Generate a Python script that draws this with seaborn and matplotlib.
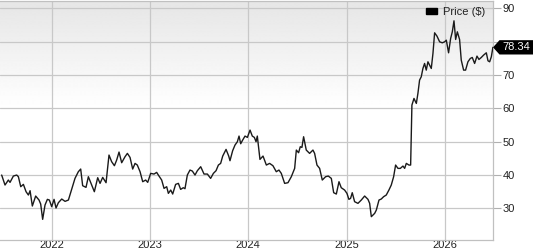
import numpy as np
import pandas as pd
import matplotlib
matplotlib.use("Agg")
import matplotlib.pyplot as plt
import matplotlib.transforms as mtransforms
from matplotlib.patches import Patch, Polygon
import seaborn as sns

# ---- data (time in decimal years, price in $) ----
t = [2021.491, 2021.525, 2021.559, 2021.576, 2021.610, 2021.644, 2021.661, 2021.685,
     2021.712, 2021.739, 2021.763, 2021.780, 2021.803, 2021.837, 2021.871, 2021.888,
     2021.908, 2021.932, 2021.956, 2021.976, 2022.000, 2022.024, 2022.044, 2022.068,
     2022.102, 2022.136, 2022.170, 2022.203, 2022.237, 2022.271, 2022.295, 2022.315,
     2022.349, 2022.373, 2022.407, 2022.434, 2022.468, 2022.492, 2022.519, 2022.553,
     2022.583, 2022.610, 2022.638, 2022.661, 2022.685, 2022.712, 2022.746, 2022.770,
     2022.797, 2022.824, 2022.848, 2022.871, 2022.899, 2022.926, 2022.956, 2022.977,
     2023.007, 2023.041, 2023.068, 2023.085, 2023.119, 2023.143, 2023.170, 2023.187,
     2023.211, 2023.231, 2023.261, 2023.289, 2023.312, 2023.339, 2023.356, 2023.380,
     2023.407, 2023.431, 2023.458, 2023.482, 2023.516, 2023.550, 2023.584, 2023.617,
     2023.645, 2023.672, 2023.696, 2023.719, 2023.740, 2023.774, 2023.801, 2023.814,
     2023.841, 2023.865, 2023.889, 2023.906, 2023.923, 2023.943, 2023.967, 2023.991,
     2024.018, 2024.041, 2024.062, 2024.079, 2024.092, 2024.119,
     2024.150, 2024.184, 2024.217, 2024.251, 2024.285, 2024.312, 2024.336, 2024.370,
     2024.404, 2024.438, 2024.472, 2024.489, 2024.512, 2024.529, 2024.546, 2024.563,
     2024.590, 2024.624, 2024.658, 2024.675, 2024.699, 2024.726, 2024.753, 2024.787,
     2024.814, 2024.845, 2024.869, 2024.896, 2024.923, 2024.946, 2024.980, 2025.004,
     2025.024, 2025.041, 2025.058, 2025.082, 2025.116, 2025.150, 2025.184, 2025.218,
     2025.235, 2025.252, 2025.286, 2025.303, 2025.330, 2025.353, 2025.377, 2025.404,
     2025.431, 2025.455, 2025.479, 2025.499, 2025.523, 2025.547, 2025.574, 2025.591,
     2025.608, 2025.635, 2025.652, 2025.665, 2025.686, 2025.710, 2025.726, 2025.743,
     2025.760, 2025.777, 2025.794, 2025.811, 2025.828, 2025.845, 2025.862, 2025.879,
     2025.896, 2025.920, 2025.947, 2025.974, 2025.998, 2026.015, 2026.038, 2026.059,
     2026.076, 2026.093, 2026.110, 2026.127, 2026.150, 2026.167, 2026.191, 2026.211,
     2026.235, 2026.259, 2026.279, 2026.303, 2026.327, 2026.347, 2026.371, 2026.394,
     2026.422, 2026.439, 2026.456, 2026.473, 2026.489]

price = [40.0, 37.0, 38.5, 37.8, 39.7, 40.0, 39.5, 36.5,
         37.2, 35.0, 34.0, 35.3, 30.7, 33.7, 32.5, 31.3,
         26.7, 31.0, 32.7, 32.5, 30.5, 32.7, 30.1, 31.7,
         32.8, 32.1, 32.5, 35.7, 39.0, 41.0, 41.8, 36.8,
         36.3, 39.5, 37.0, 35.0, 39.2, 37.5, 39.3, 37.7,
         46.0, 44.0, 42.8, 44.5, 46.9, 43.7, 45.5, 46.5,
         45.3, 41.8, 43.5, 43.0, 41.0, 38.0, 38.5, 37.8,
         40.5, 40.3, 40.8, 40.0, 38.5, 36.0, 36.5, 34.5,
         35.5, 34.3, 37.2, 37.5, 35.7, 36.2, 35.9, 40.0,
         41.5, 41.2, 40.0, 41.3, 42.5, 40.3, 40.3, 39.0,
         40.5, 41.3, 43.0, 43.5, 45.7, 47.7, 45.7, 44.3,
         47.3, 49.0, 50.0, 51.7, 49.4, 50.5, 51.7, 51.3,
         53.5, 51.7, 51.3, 50.0, 51.7, 44.7,
         45.7, 43.0, 43.5, 42.8, 41.0, 41.5, 40.5, 37.5,
         37.7, 39.5, 42.0, 47.5, 46.7, 48.5, 48.3, 51.5,
         47.5, 46.5, 47.5, 46.5, 43.0, 42.0, 38.5, 39.5,
         39.7, 39.0, 34.7, 34.3, 38.0, 36.2, 35.5, 34.5,
         32.7, 33.0, 34.7, 32.0, 31.5, 32.5, 33.7, 32.7,
         31.5, 27.5, 28.5, 29.5, 32.5, 32.8, 33.5, 34.0,
         35.5, 37.0, 39.5, 43.0, 42.0, 42.0, 42.7, 42.0,
         43.5, 43.0, 43.0, 61.0, 63.0, 61.5, 64.5, 68.5,
         69.5, 72.0, 73.5, 71.5, 74.0, 73.0, 72.0, 76.5,
         82.7, 81.7, 80.0, 79.7, 80.0, 80.5, 76.7, 81.0,
         83.0, 86.3, 80.7, 83.0, 80.7, 74.5, 71.5, 71.5,
         74.0, 75.0, 75.3, 73.5, 75.7, 74.7, 75.3, 76.0,
         76.7, 74.3, 74.0, 75.5, 78.34]

year_ticks = [2022, 2023, 2024, 2025, 2026]
year_labels = ["2022", "2023", "2024", "2025", "2026"]
price_ticks = [30, 40, 50, 60, 70, 80, 90]
price_labels = ["30", "40", "50", "60", "70", "", "90"]  # 80 is hidden behind the last-price tag
series_name = "Price ($)"
last_label = "78.34"

df = pd.DataFrame({"t": t, "price": price})

sns.set_theme(style="white")
plt.rcParams["font.family"] = ["Liberation Sans", "DejaVu Sans"]

W, H = 533, 250
fig = plt.figure(figsize=(W / 100, H / 100), dpi=100)
ax = fig.add_axes([0, 10 / H, 493 / W, (H - 10.5) / H])

xlim = (2021.474, 2026.49)
ylim = (20.5, 92.4)

# gradient background (grey at top fading to white)
grad = np.ones((256, 1))
yy = np.linspace(ylim[1], ylim[0], 256)
frac = np.clip((yy - 60.0) / (ylim[1] - 60.0), 0, 1)
grad[:, 0] = 1.0 - 0.10 * frac
ax.imshow(grad, cmap="gray", vmin=0, vmax=1, aspect="auto",
          extent=[xlim[0], xlim[1], ylim[0], ylim[1]], origin="upper",
          zorder=0, interpolation="bilinear")

sns.lineplot(data=df, x="t", y="price", ax=ax, color="#1a1a1a",
             linewidth=1.0, zorder=3, legend=False)

ax.set_xlim(*xlim)
ax.set_ylim(*ylim)
ax.set_xlabel("")
ax.set_ylabel("")

ax.set_xticks(year_ticks)
ax.set_xticklabels(year_labels)
ax.set_yticks(price_ticks)
ax.set_yticklabels(price_labels)
ax.yaxis.tick_right()
ax.tick_params(axis="y", which="both", length=5.5, width=0.8, color="#b0b0b0",
               pad=1.5, labelsize=8, labelcolor="#222222", right=True, left=False)
ax.tick_params(axis="x", length=0, pad=0.3, labelsize=8, labelcolor="#222222")

ax.grid(True, color="#c8c8c8", linewidth=0.9, zorder=1)
ax.set_axisbelow(True)
for name, sp in ax.spines.items():
    sp.set_color("#c0c0c0")
    sp.set_linewidth(0.9)
ax.spines["left"].set_visible(False)

# legend
leg = ax.legend(handles=[Patch(facecolor="black", edgecolor="black", label=series_name)],
                loc="upper right", bbox_to_anchor=(493 / 493, 1.005), frameon=False,
                fontsize=8, handlelength=1.0, handleheight=0.45, handletextpad=0.55,
                borderpad=0.2, labelcolor="#222222")

# last price marker: black box with arrow pointing at the axis
trans = mtransforms.blended_transform_factory(ax.transAxes, ax.transData)
yv = price[-1]
hh = 2.15
x0 = 1.0
x1 = 1.0 + 6.5 / 493
x2 = 1.0 + 41 / 493
poly = Polygon([[x0, yv], [x1, yv + hh], [x2, yv + hh], [x2, yv - hh], [x1, yv - hh]],
               closed=True, transform=trans, facecolor="black", edgecolor="none",
               clip_on=False, zorder=5)
ax.add_patch(poly)
ax.text(1.0 + 23.5 / 493, yv, last_label, transform=trans, color="white",
        fontsize=8, ha="center", va="center", zorder=6, clip_on=False)

fig.savefig("out.png", dpi=100)
